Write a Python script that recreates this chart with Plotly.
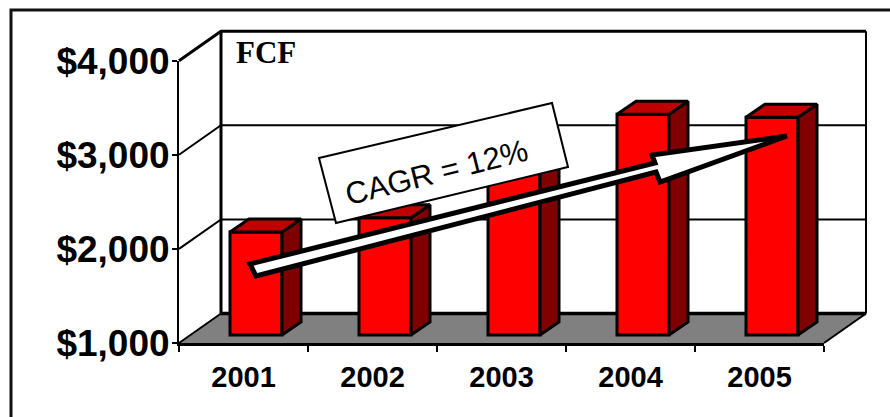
import plotly.graph_objects as go

# Free cash flow by year, in $ millions
years = ["2001", "2002", "2003", "2004", "2005"]
fcf = [2095, 2245, 2800, 3345, 3315]
y_ticks = [1000, 2000, 3000, 4000]
y_labels = ["$1,000", "$2,000", "$3,000", "$4,000"]

W, H = 890, 417
LEFT, RIGHT, TOP, BOTTOM = 179, 824, 60.7, 343
Y_MIN, Y_MAX = 1000, 4000
PER_CAT = (RIGHT - LEFT) / 5
PER_VAL = (BOTTOM - TOP) / (Y_MAX - Y_MIN)

# Pseudo-3D offsets, expressed in axis units
WALL_DX, WALL_DY = 42 / PER_CAT, 29.5 / PER_VAL
BAR_DX, BAR_DY = 12.5 / PER_CAT, 8 / PER_VAL
SIDE_DX, SIDE_DY = 19 / PER_CAT, 13 / PER_VAL
BAR_WIDTH = 52 / PER_CAT
X0, X1 = -0.5, 4.5
PAD = 10  # spare pixels around the wall subplot so edge lines are not clipped

RED, MAROON, DARK_RED, GREY = "#FF0000", "#800000", "#C00000", "#808080"


def path(points):
    return "M" + "L".join(f"{x / W:.5f},{1 - y / H:.5f}" for x, y in points) + "Z"


def open_path(points):
    return "M" + "L".join(f"{x / W:.5f},{1 - y / H:.5f}" for x, y in points)


fig = go.Figure()


def wall_line(xs, ys, width):
    fig.add_trace(go.Scatter(x=xs, y=ys, mode="lines", hoverinfo="skip",
                             line=dict(color="black", width=width, simplify=False),
                             showlegend=False))


# Grey floor
fig.add_trace(go.Scatter(
    x=[X0, X0 + WALL_DX, X1 + WALL_DX, X1, X0],
    y=[Y_MIN, Y_MIN + WALL_DY, Y_MIN + WALL_DY, Y_MIN, Y_MIN],
    mode="none", fill="toself", fillcolor=GREY,
    hoverinfo="skip", showlegend=False))

# Gridlines run across the side wall and the back wall
for v in y_ticks[1:-1]:
    wall_line([X0, X0 + WALL_DX, X1 + WALL_DX], [v, v + WALL_DY, v + WALL_DY], 2)
wall_line([X0, X0 + WALL_DX], [Y_MIN, Y_MIN + WALL_DY], 2)
wall_line([X0 + WALL_DX, X1 + WALL_DX], [Y_MIN + WALL_DY] * 2, 3.5)
wall_line([X0, X0 + WALL_DX, X1 + WALL_DX], [Y_MAX, Y_MAX + WALL_DY, Y_MAX + WALL_DY], 3)
wall_line([X0 + WALL_DX] * 2, [Y_MIN + WALL_DY, Y_MAX + WALL_DY], 3)
wall_line([X1 + WALL_DX] * 2, [Y_MIN + WALL_DY, Y_MAX + WALL_DY], 2)
wall_line([X1, X1 + WALL_DX], [Y_MIN, Y_MIN + WALL_DY], 2)

# Front faces of the columns live on the second subplot, above the floor
positions = list(range(len(years)))
fig.add_trace(go.Bar(
    x=positions, y=[v - Y_MIN for v in fcf], base=Y_MIN + BAR_DY,
    offset=BAR_DX - BAR_WIDTH / 2, width=BAR_WIDTH,
    marker=dict(color=RED, line=dict(color="black", width=3)),
    xaxis="x2", yaxis="y2", hoverinfo="skip", showlegend=False))

# Right side and top faces of each column
for p, v in zip(positions, fcf):
    left = p + BAR_DX - BAR_WIDTH / 2
    right = left + BAR_WIDTH
    base = Y_MIN + BAR_DY
    top = v + BAR_DY
    fig.add_trace(go.Scatter(
        x=[right, right + SIDE_DX, right + SIDE_DX, right, right],
        y=[base, base + SIDE_DY, top + SIDE_DY, top, base],
        mode="lines", fill="toself", fillcolor=MAROON,
        line=dict(color="black", width=3), xaxis="x2", yaxis="y2",
        hoverinfo="skip", showlegend=False))
    fig.add_trace(go.Scatter(
        x=[left, left + SIDE_DX, right + SIDE_DX, right, left],
        y=[top, top + SIDE_DY, top + SIDE_DY, top, top],
        mode="lines", fill="toself", fillcolor=DARK_RED,
        line=dict(color="black", width=3), xaxis="x2", yaxis="y2",
        hoverinfo="skip", showlegend=False))

shapes = [
    # Frame along the top and left edges of the slide
    dict(type="path", xref="paper", yref="paper",
         path=open_path([(11, H + 5), (11, 10), (W + 5, 10)]),
         line=dict(color="#111111", width=3)),
    # Growth callout
    dict(type="path", xref="paper", yref="paper",
         path=path([(319, 158), (552, 103), (568, 167), (336, 223)]),
         fillcolor="white", line=dict(color="black", width=2)),
    # Growth arrow
    dict(type="path", xref="paper", yref="paper",
         path=path([(250, 264), (655, 163), (652, 155), (787, 136),
                    (660, 182), (656, 172), (256, 276)]),
         fillcolor="white", line=dict(color="black", width=5)),
]

annotations = [
    dict(text="<b>FCF</b>", xref="paper", yref="paper", x=234 / W, y=1 - 53 / H,
         xanchor="left", yanchor="middle", showarrow=False,
         font=dict(family="Liberation Serif", size=31, color="black")),
    dict(text="CAGR = 12%", xref="paper", yref="paper", x=436 / W, y=1 - 172 / H,
         xanchor="center", yanchor="middle", showarrow=False, textangle=-14,
         font=dict(family="Liberation Sans", size=31, color="black")),
]

fig.update_layout(
    width=W, height=H, margin=dict(l=0, r=0, t=0, b=0, autoexpand=False),
    paper_bgcolor="white", plot_bgcolor="rgba(0,0,0,0)", showlegend=False,
    barmode="overlay", shapes=shapes, annotations=annotations,
    # Wall subplot: hidden axes, same pixel scale, enlarged to hold the depth offset
    xaxis=dict(
        domain=[(LEFT - PAD) / W, (RIGHT + 42 + PAD) / W],
        range=[X0 - PAD / PER_CAT, X1 + WALL_DX + PAD / PER_CAT],
        anchor="y", visible=False, fixedrange=True,
    ),
    yaxis=dict(
        domain=[1 - (BOTTOM + PAD) / H, 1 - (TOP - 29.5 - PAD) / H],
        range=[Y_MIN - PAD / PER_VAL, Y_MAX + WALL_DY + PAD / PER_VAL],
        anchor="x", visible=False, fixedrange=True,
    ),
    # Chart subplot: the visible axes, columns and tick labels
    xaxis2=dict(
        domain=[LEFT / W, RIGHT / W], range=[X0, X1], anchor="y2", fixedrange=True,
        zeroline=False, showgrid=False, showline=True, linecolor="black", linewidth=3,
        tickmode="array", tickvals=positions, ticktext=years, ticks="",
        ticklabelstandoff=6, automargin=False,
        tickfont=dict(family="Liberation Sans", size=29, color="black", weight="bold"),
        minor=dict(tickmode="array", tickvals=[X0 + i for i in range(len(years) + 1)],
                   ticks="outside", ticklen=6, tickwidth=2, tickcolor="black", showgrid=False),
    ),
    yaxis2=dict(
        domain=[1 - BOTTOM / H, 1 - TOP / H], range=[Y_MIN, Y_MAX], anchor="x2",
        fixedrange=True, zeroline=False, showgrid=False, showline=True,
        linecolor="black", linewidth=2, automargin=False,
        tickmode="array", tickvals=y_ticks, ticktext=y_labels,
        ticks="outside", ticklen=5, tickwidth=2, tickcolor="black",
        ticklabelstandoff=-5,
        tickfont=dict(family="Liberation Sans", size=37, color="black", weight="bold"),
    ),
)

fig.write_html("out.html", config={"displayModeBar": False})
